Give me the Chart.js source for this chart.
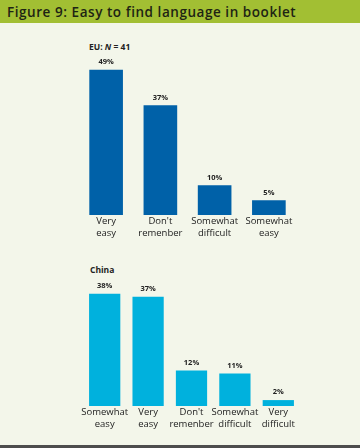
<!DOCTYPE html>
<html>
<head>
<meta charset="utf-8">
<script src="https://cdn.jsdelivr.net/npm/chart.js@4"></script>
<style>
  body { margin: 0; background: #f3f6ea; }
  .page { position: relative; width: 360px; height: 448px; background: #f3f6ea; overflow: hidden; font-family: "Open Sans", sans-serif; }
  .header { position: absolute; left: 0; top: 0; width: 360px; height: 23px; background: #a2bf33; }
  .header span { position: absolute; left: 7px; top: 3px; font-size: 13.5px; font-weight: 600; letter-spacing: 0.55px; color: #1e2414; white-space: nowrap; }
  .sub { position: absolute; font-size: 8.5px; font-weight: 700; color: #222; }
  .box { position: absolute; left: 0; width: 360px; }
  .rule { position: absolute; left: 0; top: 445px; width: 360px; height: 3px; background: #4d4d4d; }
</style>
</head>
<body>
<div class="page">
  <div class="header"><span>Figure 9: Easy to find language in booklet</span></div>
  <div class="sub" style="left:89px; top:41px;">EU: <i>N</i> = 41</div>
  <div class="box" style="top:40px; height:200px;"><canvas id="euChart"></canvas></div>
  <div class="sub" style="left:90px; top:264px;">China</div>
  <div class="box" style="top:255px; height:180px;"><canvas id="chinaChart"></canvas></div>
  <div class="rule"></div>
</div>
<script>
const euLabels = [['Very', 'easy'], ["Don't", 'remenber'], ['Somewhat', 'difficult'], ['Somewhat', 'easy']];
const euValues = [49, 37, 10, 5];

const chinaLabels = [['Somewhat', 'easy'], ['Very', 'easy'], ["Don't", 'remenber'], ['Somewhat', 'difficult'], ['Very', 'difficult']];
const chinaValues = [38, 37, 12, 11, 2];

// draws the % value over each bar
const valueLabels = {
    id: 'valueLabels',
    afterDatasetsDraw(chart) {
        const ctx = chart.ctx;
        ctx.save();
        ctx.font = 'bold 7.5px "Open Sans"';
        ctx.fillStyle = '#222';
        ctx.textAlign = 'center';
        ctx.textBaseline = 'bottom';
        chart.getDatasetMeta(0).data.forEach((bar, i) => {
            const v = chart.data.datasets[0].data[i];
            ctx.fillText(v + '%', bar.x, bar.y - 4);
        });
        ctx.restore();
    }
};

function makeChart(id, labels, values, color, yMax, pad, axisHeight, barPct) {
    const ctx = document.getElementById(id).getContext('2d');
    return new Chart(ctx, {
        type: 'bar',
        data: {
            labels: labels,
            datasets: [{
                data: values,
                backgroundColor: color,
                borderWidth: 0,
                barPercentage: barPct,
                categoryPercentage: 1
            }]
        },
        options: {
            responsive: true,
            maintainAspectRatio: false,
            animation: false,
            layout: { padding: pad },
            plugins: { legend: { display: false }, tooltip: { enabled: false } },
            scales: {
                x: {
                    grid: { display: false, drawTicks: false },
                    border: { display: false },
                    ticks: {
                        color: '#222',
                        padding: 1,
                        maxRotation: 0,
                        autoSkip: false,
                        font: { family: 'Open Sans', size: 9.5 }
                    },
                    afterFit(scale) { scale.height = axisHeight; }
                },
                y: {
                    display: false,
                    min: 0,
                    max: yMax
                }
            }
        },
        plugins: [valueLabels]
    });
}

makeChart('euChart', euLabels, euValues, '#0061a8', 55,
    { top: 12, left: 79, right: 64, bottom: 0 }, 25, 0.62);
makeChart('chinaChart', chinaLabels, chinaValues, '#00b1dd', 45,
    { top: 18, left: 83, right: 60, bottom: 0 }, 29, 0.72);
</script>
</body>
</html>
